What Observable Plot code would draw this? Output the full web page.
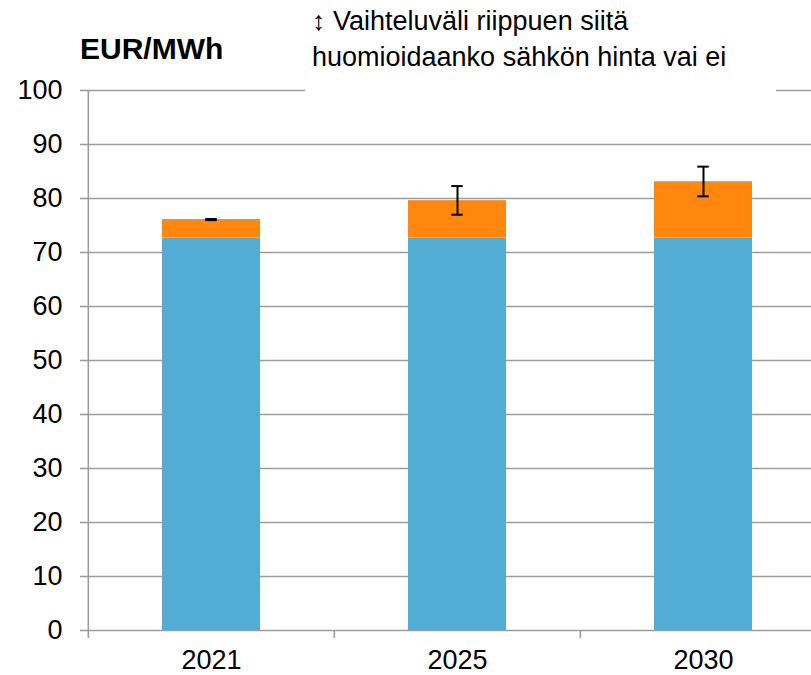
<!DOCTYPE html>
<html><head><meta charset="utf-8">
<script src="https://cdn.jsdelivr.net/npm/d3@7"></script>
<script src="https://cdn.jsdelivr.net/npm/@observablehq/plot@0.6"></script>
<style>
body{margin:0;background:#fff;font-family:"Liberation Sans",Arial,sans-serif}
#wrap{position:relative;width:811px;height:675px;overflow:hidden}
#unit{position:absolute;left:80px;top:33px;font-weight:bold;font-size:30px;line-height:32px;color:#000}
#legend{position:absolute;left:305px;top:0;width:471px;height:93px;background:#fff;font-size:27px;line-height:36px;color:#000}
#legend div{padding-left:7px;white-space:nowrap}
</style></head><body>
<div id="wrap">
<div id="chart"></div>
<div id="unit">EUR/MWh</div>
<div id="legend"><div style="margin-top:3px">↕ Vaihteluväli riippuen siitä</div><div>huomioidaanko sähkön hinta vai ei</div></div>
</div>
<script>
const years = ["2021", "2025", "2030"];
const baseCost = [72.7, 72.7, 72.7];
const addedCost = [3.4, 6.9, 10.4];
const rangeLow = [76.0, 77.0, 80.4];
const rangeHigh = [76.2, 82.3, 85.9];
const yTicks = [0, 10, 20, 30, 40, 50, 60, 70, 80, 90, 100];

const rows = years.map((y, i) => ({
  year: y, base: baseCost[i], top: baseCost[i] + addedCost[i], lo: rangeLow[i], hi: rangeHigh[i]
}));

const W = 811, H = 675, mL = 88, mR = -16;
const pIn = 0.6, pOut = 0.3;
const step = (W - mR - mL) / (years.length - pIn + 2 * pOut);
const bw = step * (1 - pIn);
const capHalf = 6;
const capInset = bw / 2 - capHalf;
const gridColor = "#9c9c9c";

const plot = Plot.plot({
  width: W, height: H,
  marginLeft: mL, marginRight: mR, marginTop: 90, marginBottom: 45,
  style: {fontFamily: "'Liberation Sans', Arial, sans-serif", fontSize: "27px", color: "#000", background: "transparent"},
  x: {domain: years, paddingInner: pIn, paddingOuter: pOut, label: null},
  y: {domain: [0, 100], label: null},
  marks: [
    Plot.gridY(yTicks, {stroke: gridColor, strokeOpacity: 1, strokeWidth: 1.6}),
    Plot.barY(rows, {x: "year", y1: 0, y2: "base", fill: "#52acd4"}),
    Plot.barY(rows, {x: "year", y1: "base", y2: "top", fill: "#ff860f"}),
    Plot.ruleX(rows, {x: "year", y1: "lo", y2: "hi", stroke: "#000", strokeWidth: 2}),
    Plot.tickY(rows, {x: "year", y: "lo", stroke: "#000", strokeWidth: 2, insetLeft: capInset, insetRight: capInset}),
    Plot.tickY(rows, {x: "year", y: "hi", stroke: "#000", strokeWidth: 2, insetLeft: capInset, insetRight: capInset}),
    Plot.axisY(yTicks, {tickSize: 8, tickPadding: 18, stroke: gridColor, strokeWidth: 1.6, fontSize: 27, fill: "#000"}),
    Plot.ruleX(years, {x: d => d, dx: -step / 2, y1: -1.5, y2: 0, stroke: gridColor, strokeWidth: 1.6}),
    Plot.ruleX([years[0]], {x: d => d, dx: -step / 2, y1: 0, y2: 100, stroke: gridColor, strokeWidth: 1.6}),
    Plot.axisX({tickSize: 0, tickPadding: 19, fontSize: 27, fill: "#000"})
  ]
});
document.getElementById("chart").appendChild(plot);
</script>
</body></html>
